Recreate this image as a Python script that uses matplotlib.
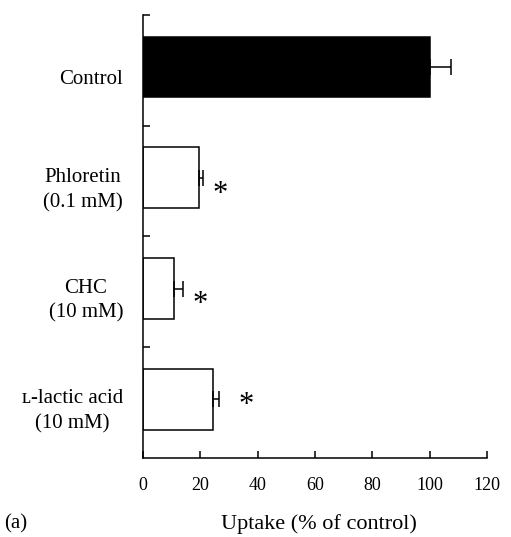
import matplotlib
matplotlib.use("Agg")
from matplotlib import pyplot as plt
from matplotlib import transforms

plt.rcParams["font.family"] = ["Liberation Serif", "DejaVu Serif"]
plt.rcParams["font.size"] = 15

groups = ["Control", "Phloretin\n(0.1 mM)", "CHC\n(10 mM)", "ʟ-lactic acid\n(10 mM)"]
uptake = [100, 19.5, 10.8, 24.4]
errors = [7.5, 1.3, 3.0, 2.0]
signif = [False, True, True, True]
star_x = [0, 27, 20, 36]
star_y = [0, 1.05, 2.05, 2.96]
colors = ["black", "white", "white", "white"]
xticks = [0, 20, 40, 60, 80, 100, 120]

fig = plt.figure(figsize=(5.11, 5.37), dpi=100)
ax = fig.add_axes([0.2798, 0.1471, 0.6732, 0.8250])

pos = [i - 0.03 for i in range(len(groups))]
ax.barh(pos, uptake, height=0.55, color=colors, edgecolor="black", linewidth=1.1)
ax.errorbar(uptake, pos, xerr=[[0] * 4, errors], fmt="none", ecolor="black",
            elinewidth=1.1, capsize=5.5, capthick=1.1)

# asterisks: baseline sits a bit below the glyph centre
for i, s in enumerate(signif):
	if s:
		ax.text(star_x[i], star_y[i] + 0.135, "*", fontsize=22, ha="center", va="baseline")

ax.set_xlim(0, 120)
ax.set_ylim(3.5, -0.5)
ax.set_xticks(xticks)
ax.set_yticks([-0.5, 0.5, 1.5, 2.5])
ax.set_yticklabels([])
ax.tick_params(axis="x", direction="in", length=5, width=1.1, pad=13.5, labelsize=13)
ax.tick_params(axis="y", direction="in", length=5, width=1.1)

trans = transforms.blended_transform_factory(ax.transAxes, ax.transData)
for i, g in enumerate(groups):
	ax.text(-0.058, i + 0.08, g, transform=trans, ha="right", va="center",
	        multialignment="center", linespacing=1.42)

for side in ["top", "right"]:
	ax.spines[side].set_visible(False)
for side in ["left", "bottom"]:
	ax.spines[side].set_linewidth(1.1)

fig.text(0.009, 0.025, "(a)", ha="left", va="center")
fig.text(0.625, 0.025, "Uptake (% of control)", ha="center", va="center", fontsize=16)

fig.savefig("out.png", dpi=100)
